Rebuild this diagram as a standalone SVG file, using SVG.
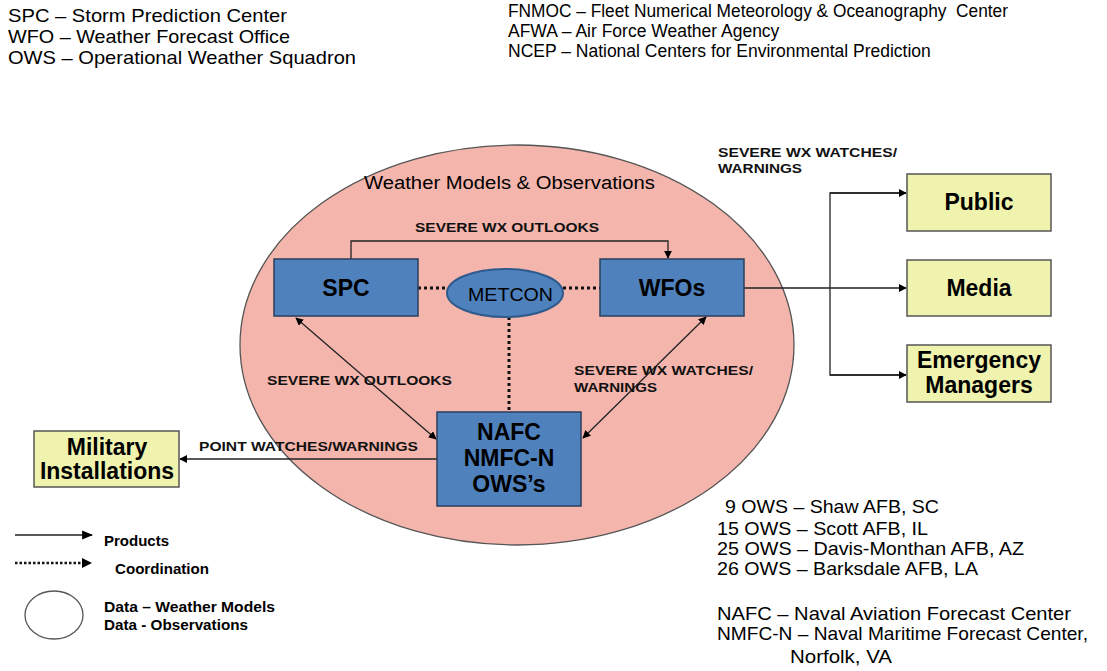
<svg xmlns="http://www.w3.org/2000/svg" width="1107" height="671" viewBox="0 0 1107 671">
<defs>
<marker id="ah" viewBox="0 0 10 10" refX="9" refY="5" markerWidth="8" markerHeight="8" markerUnits="userSpaceOnUse" orient="auto-start-reverse">
<path d="M0,0 L10,5 L0,10 z" fill="#000"/>
</marker>
<marker id="ahl" viewBox="0 0 10 10" refX="9" refY="5" markerWidth="11" markerHeight="11" markerUnits="userSpaceOnUse" orient="auto">
<path d="M0,1 L10,5 L0,9 z" fill="#000"/>
</marker>
<style>
text{font-family:"Liberation Sans",Arial,sans-serif;fill:#000}
.def{font-size:17.5px}
.def2{font-size:19px}
.lbl{font-size:13.5px;font-weight:bold;fill:#111}
.box{fill:#4F81BD;stroke:#2A3F5E;stroke-width:1.5}
.ybox{fill:#EFF3AE;stroke:#555;stroke-width:1.5}
.bt{font-size:23px;font-weight:bold;text-anchor:middle}
.yt{font-size:23px;font-weight:bold;text-anchor:middle}
.conn{fill:none;stroke:#222;stroke-width:1.3}
.dot{fill:none;stroke:#111;stroke-width:3;stroke-dasharray:3,3}
.leg{font-size:15px;font-weight:bold}
</style>
</defs>
<rect width="1107" height="671" fill="#fff"/>

<g id="legend-top-left">
<text class="def2" x="8" y="22" textLength="279" lengthAdjust="spacingAndGlyphs">SPC – Storm Prediction Center</text>
<text class="def2" x="8" y="43" textLength="282" lengthAdjust="spacingAndGlyphs">WFO – Weather Forecast Office</text>
<text class="def2" x="8" y="64" textLength="348" lengthAdjust="spacingAndGlyphs">OWS – Operational Weather Squadron</text>
</g>
<g id="legend-top-right">
<text class="def" x="508" y="17" textLength="500" lengthAdjust="spacingAndGlyphs" xml:space="preserve">FNMOC – Fleet Numerical Meteorology &amp; Oceanography  Center</text>
<text class="def" x="508" y="37">AFWA – Air Force Weather Agency</text>
<text class="def" x="508" y="57">NCEP – National Centers for Environmental Prediction</text>
</g>

<g id="data-ellipse">
<ellipse cx="517" cy="345" rx="277" ry="200" fill="#F4B5AC" stroke="#555" stroke-width="1.3"/>
<text x="364" y="189" font-size="18" textLength="291" lengthAdjust="spacingAndGlyphs">Weather Models &amp; Observations</text>
</g>

<g id="connectors">
<polyline class="conn" points="351,259 351,241 668,241 668,258" marker-end="url(#ah)"/>
<text class="lbl" x="415" y="232" textLength="184" lengthAdjust="spacingAndGlyphs">SEVERE WX OUTLOOKS</text>
<line class="dot" x1="418" y1="288" x2="446" y2="288"/>
<line class="dot" x1="563" y1="288" x2="600" y2="288"/>
<line class="dot" x1="509" y1="317" x2="509" y2="412"/>
<line class="conn" x1="296" y1="318" x2="436" y2="439" marker-start="url(#ah)" marker-end="url(#ah)"/>
<text class="lbl" x="267" y="385" textLength="185" lengthAdjust="spacingAndGlyphs">SEVERE WX OUTLOOKS</text>
<line class="conn" x1="706" y1="317" x2="583" y2="438" marker-start="url(#ah)" marker-end="url(#ah)"/>
<text class="lbl" x="574" y="375" textLength="179" lengthAdjust="spacingAndGlyphs">SEVERE WX WATCHES/</text>
<text class="lbl" x="574" y="392" textLength="83" lengthAdjust="spacingAndGlyphs">WARNINGS</text>
<line class="conn" x1="437" y1="459" x2="180" y2="459" marker-end="url(#ah)"/>
<text class="lbl" x="199" y="451" textLength="219" lengthAdjust="spacingAndGlyphs">POINT WATCHES/WARNINGS</text>
<line class="conn" x1="744" y1="288" x2="906" y2="288" marker-end="url(#ah)"/>
<polyline class="conn" points="906,193 830,193 830,375 906,375"/>
<line class="conn" x1="830" y1="193" x2="906" y2="193" marker-end="url(#ah)"/>
<line class="conn" x1="830" y1="375" x2="906" y2="375" marker-end="url(#ah)"/>
<text class="lbl" x="718" y="157" textLength="179" lengthAdjust="spacingAndGlyphs">SEVERE WX WATCHES/</text>
<text class="lbl" x="718" y="173" textLength="84" lengthAdjust="spacingAndGlyphs">WARNINGS</text>
</g>

<g id="spc">
<rect class="box" x="274" y="259" width="144" height="57"/>
<text class="bt" x="346" y="296">SPC</text>
</g>
<g id="metcon">
<ellipse cx="505" cy="293" rx="58" ry="24" fill="#4F81BD" stroke="#2F5A8C" stroke-width="2"/>
<text x="468" y="301" font-size="19" textLength="85" lengthAdjust="spacingAndGlyphs">METCON</text>
</g>
<g id="wfos">
<rect class="box" x="600" y="259" width="144" height="57"/>
<text class="bt" x="672" y="296">WFOs</text>
</g>
<g id="nafc">
<rect class="box" x="437" y="412" width="144" height="94"/>
<text class="bt" x="509" y="440">NAFC</text>
<text class="bt" x="509" y="466">NMFC-N</text>
<text class="bt" x="509" y="492">OWS’s</text>
</g>
<g id="military">
<rect class="ybox" x="34" y="431" width="145" height="56"/>
<text class="yt" x="107" y="455">Military</text>
<text class="yt" x="107" y="479">Installations</text>
</g>
<g id="public">
<rect class="ybox" x="907" y="174" width="144" height="57"/>
<text class="yt" x="979" y="210">Public</text>
</g>
<g id="media">
<rect class="ybox" x="907" y="260" width="144" height="56"/>
<text class="yt" x="979" y="296">Media</text>
</g>
<g id="emergency">
<rect class="ybox" x="907" y="345" width="144" height="57"/>
<text class="yt" x="979" y="368">Emergency</text>
<text class="yt" x="979" y="393">Managers</text>
</g>

<g id="legend-bottom-left">
<line class="conn" x1="15" y1="535" x2="92" y2="535" marker-end="url(#ahl)"/>
<text class="leg" x="104" y="546" textLength="65" lengthAdjust="spacingAndGlyphs">Products</text>
<line x1="15" y1="563" x2="84" y2="563" stroke="#111" stroke-width="2.5" stroke-dasharray="2.5,2"/>
<path d="M82,558 L92,563 L82,568 z" fill="#000"/>
<text class="leg" x="115" y="574" textLength="94" lengthAdjust="spacingAndGlyphs">Coordination</text>
<ellipse cx="54" cy="615" rx="29" ry="24" fill="#fff" stroke="#555" stroke-width="1.3"/>
<text class="leg" x="104" y="612" textLength="171" lengthAdjust="spacingAndGlyphs">Data – Weather Models</text>
<text class="leg" x="104" y="630" textLength="144" lengthAdjust="spacingAndGlyphs">Data - Observations</text>
</g>

<g id="legend-bottom-right">
<text class="def2" x="725" y="513" textLength="214" lengthAdjust="spacingAndGlyphs">9 OWS – Shaw AFB, SC</text>
<text class="def2" x="717" y="535" textLength="211" lengthAdjust="spacingAndGlyphs">15 OWS – Scott AFB, IL</text>
<text class="def2" x="717" y="555" textLength="307" lengthAdjust="spacingAndGlyphs">25 OWS – Davis-Monthan AFB, AZ</text>
<text class="def2" x="717" y="575" textLength="261" lengthAdjust="spacingAndGlyphs">26 OWS – Barksdale AFB, LA</text>
<text class="def2" x="717" y="620" textLength="354" lengthAdjust="spacingAndGlyphs">NAFC – Naval Aviation Forecast Center</text>
<text class="def2" x="717" y="640" textLength="371" lengthAdjust="spacingAndGlyphs">NMFC-N – Naval Maritime Forecast Center,</text>
<text class="def2" x="790" y="663" textLength="102" lengthAdjust="spacingAndGlyphs">Norfolk, VA</text>
</g>
</svg>
